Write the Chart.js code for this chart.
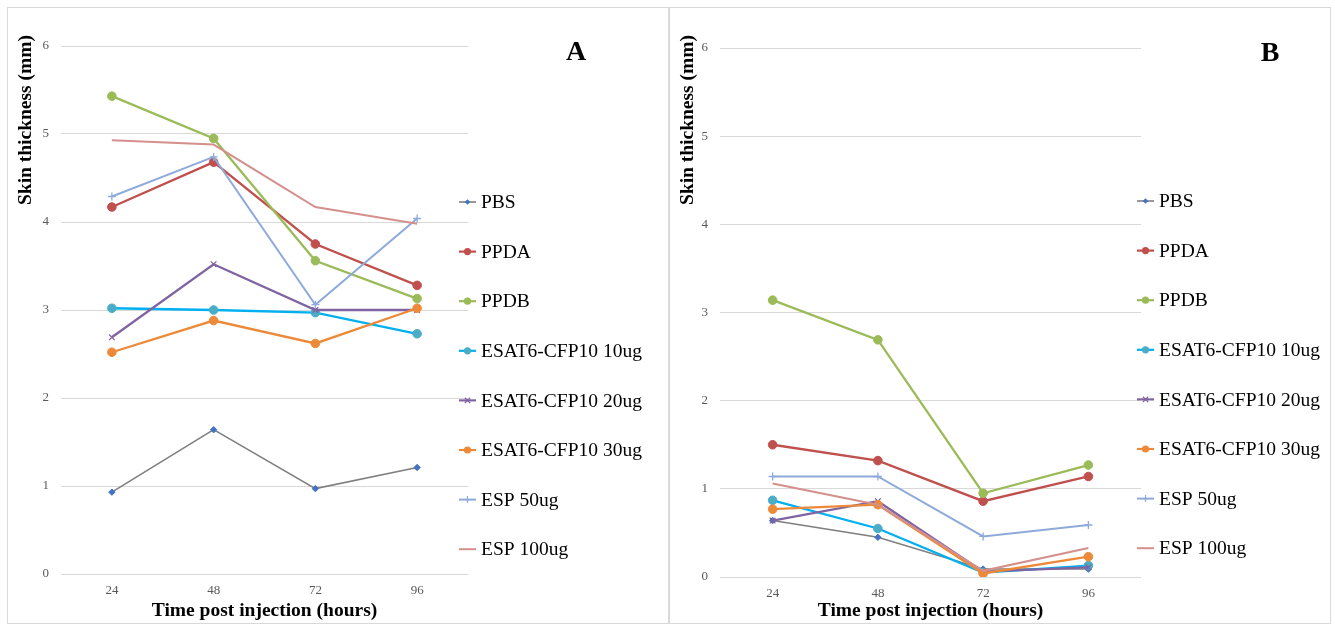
<!DOCTYPE html>
<html>
<head>
<meta charset="utf-8">
<script src="https://cdn.jsdelivr.net/npm/chart.js@4/dist/chart.umd.min.js"></script>
<style>
  html, body { margin: 0; padding: 0; background: #ffffff; }
  body { width: 1335px; height: 626px; position: relative; overflow: hidden; }
  .panel { position: absolute; top: 7px; height: 615px; width: 660px; border: 1px solid #d9d9d9; }
  #pa { left: 7px; }
  #pb { left: 669px; }
  .panel canvas { position: absolute; left: 0; top: 0; }
</style>
</head>
<body>
<div class="panel" id="pa"><canvas id="chartA" width="660" height="615"></canvas></div>
<div class="panel" id="pb"><canvas id="chartB" width="660" height="615"></canvas></div>
<script>
// ---------- data ----------
const hours = ['24', '48', '72', '96'];
const seriesNames = ['PBS', 'PPDA', 'PPDB', 'ESAT6-CFP10 10ug', 'ESAT6-CFP10 20ug', 'ESAT6-CFP10 30ug', 'ESP 50ug', 'ESP 100ug'];
const yTicks = [0, 1, 2, 3, 4, 5, 6];

// Panel A
const pbsA    = [0.93, 1.64, 0.97, 1.21];
const ppdaA   = [4.17, 4.68, 3.75, 3.28];
const ppdbA   = [5.43, 4.95, 3.56, 3.13];
const esat10A = [3.02, 3.00, 2.97, 2.73];
const esat20A = [2.69, 3.52, 3.00, 3.00];
const esat30A = [2.52, 2.88, 2.62, 3.02];
const esp50A  = [4.29, 4.74, 3.06, 4.04];
const esp100A = [4.93, 4.88, 4.17, 3.98];

// Panel B
const pbsB    = [0.64, 0.45, 0.09, 0.09];
const ppdaB   = [1.50, 1.32, 0.86, 1.14];
const ppdbB   = [3.14, 2.69, 0.95, 1.27];
const esat10B = [0.87, 0.55, 0.05, 0.13];
const esat20B = [0.64, 0.86, 0.06, 0.11];
const esat30B = [0.77, 0.82, 0.04, 0.23];
const esp50B  = [1.14, 1.14, 0.46, 0.59];
const esp100B = [1.06, 0.82, 0.07, 0.33];

const valuesA = [pbsA, ppdaA, ppdbA, esat10A, esat20A, esat30A, esp50A, esp100A];
const valuesB = [pbsB, ppdaB, ppdbB, esat10B, esat20B, esat30B, esp50B, esp100B];

// ---------- styles ----------
const styles = [
  { line: '#7f7f7f', point: '#4472c4', style: 'rectRot', r: 3.2, lr: 2.8, w: 1.6 },
  { line: '#c0504d', point: '#c0504d', style: 'circle', r: 4.3, lr: 3.6, w: 2.3 },
  { line: '#9bbb59', point: '#9bbb59', style: 'circle', r: 4.3, lr: 3.6, w: 2.3 },
  { line: '#00b0f0', point: '#4bacc6', style: 'circle', r: 4.3, lr: 3.6, w: 2.3 },
  { line: '#8064a2', point: '#8064a2', style: 'crossRot', r: 4, lr: 3.5, w: 2.3 },
  { line: '#ec8a3a', point: '#ec8a3a', style: 'circle', r: 4.3, lr: 3.6, w: 2.3 },
  { line: '#8eaadb', point: '#8eaadb', style: 'cross', r: 4, lr: 3.5, w: 2.0 },
  { line: '#d4908c', point: '#d4908c', style: false, r: 0, lr: 0, w: 2.0 }
];

const SERIF = "'Liberation Serif', 'Times New Roman', Times, serif";

function drawMarker(ctx, st, x, y, r) {
  if (!st.style || r <= 0) return;
  ctx.save();
  ctx.fillStyle = st.point;
  ctx.strokeStyle = st.point;
  ctx.lineWidth = 1.2;
  ctx.beginPath();
  if (st.style === 'circle') {
    ctx.arc(x, y, r, 0, Math.PI * 2);
    ctx.fill();
  } else if (st.style === 'rectRot') {
    ctx.moveTo(x, y - r); ctx.lineTo(x + r, y); ctx.lineTo(x, y + r); ctx.lineTo(x - r, y); ctx.closePath();
    ctx.fill();
  } else if (st.style === 'crossRot') {
    const d = r * 0.75;
    ctx.moveTo(x - d, y - d); ctx.lineTo(x + d, y + d);
    ctx.moveTo(x + d, y - d); ctx.lineTo(x - d, y + d);
    ctx.stroke();
  } else if (st.style === 'cross') {
    ctx.moveTo(x - r, y); ctx.lineTo(x + r, y);
    ctx.moveTo(x, y - r); ctx.lineTo(x, y + r);
    ctx.stroke();
  }
  ctx.restore();
}

const decorPlugin = {
  id: 'decor',
  afterDraw(chart, args, opts) {
    const ctx = chart.ctx;
    // y-axis title
    ctx.save();
    ctx.translate(opts.yTitleX, opts.yTitleY);
    ctx.rotate(-Math.PI / 2);
    ctx.font = 'bold 19.5px ' + SERIF;
    ctx.fillStyle = '#000000';
    ctx.textAlign = 'center';
    ctx.textBaseline = 'middle';
    ctx.fillText('Skin thickness (mm)', 0, 0);
    ctx.restore();
    // panel letter
    ctx.save();
    ctx.font = 'bold 28px ' + SERIF;
    ctx.fillStyle = '#000000';
    ctx.textAlign = 'center';
    ctx.textBaseline = 'middle';
    ctx.fillText(opts.letter, opts.letterX, opts.letterY);
    ctx.restore();
    // legend
    ctx.save();
    ctx.font = '19.5px ' + SERIF;
    ctx.textBaseline = 'middle';
    ctx.textAlign = 'left';
    seriesNames.forEach((name, i) => {
      const st = styles[i];
      const y = opts.legendY0 + i * opts.legendStep;
      ctx.save();
      ctx.strokeStyle = st.line;
      ctx.lineWidth = Math.min(st.w, 2.2);
      ctx.beginPath();
      ctx.moveTo(opts.legendX, y);
      ctx.lineTo(opts.legendX + 17, y);
      ctx.stroke();
      ctx.restore();
      drawMarker(ctx, st, opts.legendX + 8.5, y, st.lr);
      ctx.fillStyle = '#000000';
      ctx.fillText(name, opts.legendX + 22, y + 1);
    });
    ctx.restore();
  }
};

const markerPlugin = {
  id: 'markers',
  afterDatasetsDraw(chart) {
    // markers drawn per dataset after lines, in Excel order (later series on top)
  }
};

function makeChart(id, values, geo) {
  const datasets = values.map((vals, i) => ({
    label: seriesNames[i],
    data: vals,
    borderColor: styles[i].line,
    backgroundColor: styles[i].point,
    pointBackgroundColor: styles[i].point,
    pointBorderColor: styles[i].point,
    pointBorderWidth: styles[i].style === 'cross' || styles[i].style === 'crossRot' ? 1.3 : 1,
    pointStyle: styles[i].style || 'circle',
    pointRadius: styles[i].style ? styles[i].r : 0,
    borderWidth: styles[i].w,
    tension: 0,
    fill: false,
    order: values.length - 1 - i
  }));
  return new Chart(document.getElementById(id), {
    type: 'line',
    data: { labels: hours, datasets },
    options: {
      responsive: false,
      animation: false,
      devicePixelRatio: 1,
      layout: { padding: { left: 0, top: geo.top, right: geo.right, bottom: 0 } },
      plugins: {
        legend: { display: false },
        tooltip: { enabled: false },
        decor: geo.decor
      },
      scales: {
        x: {
          type: 'category',
          offset: true,
          grid: { display: false, drawTicks: false },
          border: { display: false },
          ticks: { color: '#595959', font: { family: SERIF, size: 13 }, padding: 9 },
          title: { display: true, text: 'Time post injection (hours)', color: '#000000',
                   font: { family: SERIF, size: 19.5, weight: 'bold' }, padding: 0 },
          afterFit(scale) { scale.height = geo.xHeight; }
        },
        y: {
          min: 0, max: 6,
          afterBuildTicks(scale) { scale.ticks = yTicks.map(v => ({ value: v })); },
          grid: { color: '#d9d9d9', lineWidth: 1, drawTicks: false },
          border: { display: false },
          ticks: { color: '#595959', font: { family: SERIF, size: 13 }, padding: 12 },
          afterFit(scale) { scale.width = geo.yWidth; }
        }
      }
    },
    plugins: [decorPlugin]
  });
}

makeChart('chartA', valuesA, {
  top: 38, right: 200, xHeight: 49, yWidth: 53,
  decor: { yTitleX: 18, yTitleY: 112, letter: 'A', letterX: 568, letterY: 45,
           legendX: 451, legendY0: 194, legendStep: 49.6 }
});
makeChart('chartB', valuesB, {
  top: 40, right: 189, xHeight: 46, yWidth: 50,
  decor: { yTitleX: 18, yTitleY: 112, letter: 'B', letterX: 600, letterY: 46,
           legendX: 467, legendY0: 193, legendStep: 49.6 }
});
</script>
</body>
</html>
